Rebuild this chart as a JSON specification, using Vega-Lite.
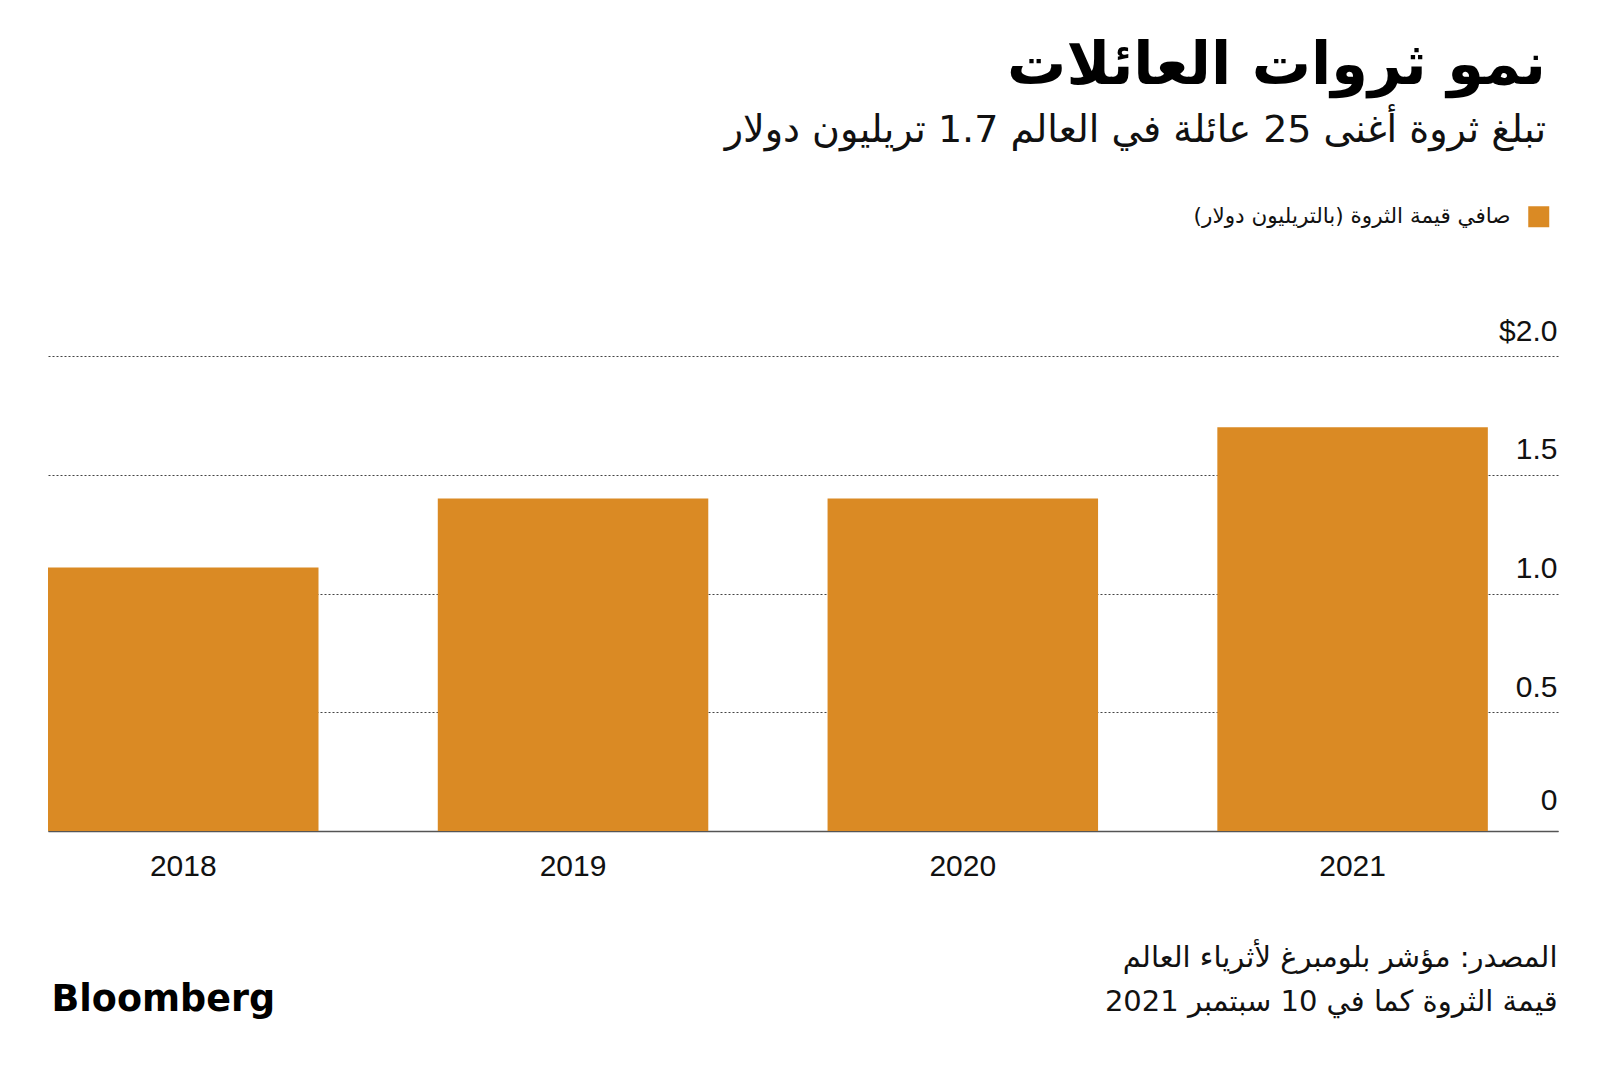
{
  "$schema": "https://vega.github.io/schema/vega-lite/v6.json",
  "width": 1510,
  "height": 475,
  "autosize": "none",
  "padding": {"left": 48, "top": 356, "right": 42, "bottom": 246},
  "background": "white",
  "title": {
    "text": "نمو ثروات العائلات",
    "subtitle": "تبلغ ثروة أغنى 25 عائلة في العالم 1.7 تريليون دولار",
    "anchor": "end",
    "frame": "group",
    "dx": -12,
    "dy": -52,
    "font": "DejaVu Sans",
    "fontSize": 59,
    "fontWeight": "bold",
    "color": "#000000",
    "subtitleFont": "DejaVu Sans",
    "subtitleFontSize": 38,
    "subtitleColor": "#111111",
    "subtitlePadding": 16
  },
  "data": {
    "values": [
      {"year": "2018", "value": 1.11, "series": "صافي قيمة الثروة  (بالتريليون دولار)‏"},
      {"year": "2019", "value": 1.4, "series": "صافي قيمة الثروة  (بالتريليون دولار)‏"},
      {"year": "2020", "value": 1.4, "series": "صافي قيمة الثروة  (بالتريليون دولار)‏"},
      {"year": "2021", "value": 1.7, "series": "صافي قيمة الثروة  (بالتريليون دولار)‏"}
    ]
  },
  "mark": {"type": "bar", "cornerRadius": 0},
  "encoding": {
    "x": {
      "field": "year",
      "type": "ordinal",
      "scale": {"paddingInner": 0.306, "paddingOuter": 0.09, "align": 0},
      "axis": {
        "domain": true,
        "domainColor": "#555555",
        "domainWidth": 1.5,
        "ticks": false,
        "labelAngle": 0,
        "labelFont": "Liberation Sans",
        "labelFontSize": 30,
        "labelColor": "#111111",
        "labelPadding": 20,
        "title": ["المصدر: مؤشر بلومبرغ لأثرياء العالم", "قيمة الثروة كما في 10 سبتمبر 2021"],
        "titleFont": "DejaVu Sans",
        "titleFontSize": 29,
        "titleFontWeight": "normal",
        "titleColor": "#111111",
        "titleAlign": "right",
        "titleAnchor": "end",
        "titleBaseline": "top",
        "titleLineHeight": 44,
        "titleX": 1509,
        "titleY": 112
      }
    },
    "y": {
      "field": "value",
      "type": "quantitative",
      "scale": {"domain": [0, 2], "nice": false},
      "axis": {
        "orient": "right",
        "values": [0, 0.5, 1, 1.5, 2],
        "labelExpr": "datum.value == 2 ? '$2.0' : (datum.value == 0 ? '0' : format(datum.value, '.1f'))",
        "grid": true,
        "gridColor": "#444444",
        "gridDash": [2, 2],
        "gridWidth": 1,
        "domain": false,
        "ticks": false,
        "labelAlign": "right",
        "labelBaseline": "alphabetic",
        "labelPadding": -1,
        "labelOffset": {"condition": {"test": "datum.value == 0", "value": -22}, "value": -16},
        "labelFont": "Liberation Sans",
        "labelFontSize": 30,
        "labelColor": "#111111",
        "title": "Bloomberg",
        "titleFont": "DejaVu Sans",
        "titleFontSize": 36.5,
        "titleFontWeight": "bold",
        "titleColor": "#000000",
        "titleAngle": 0,
        "titleAlign": "left",
        "titleBaseline": "alphabetic",
        "titleX": -1507,
        "titleY": 654
      }
    },
    "color": {
      "field": "series",
      "type": "nominal",
      "scale": {"range": ["#DA8A24"]},
      "legend": {
        "orient": "none",
        "legendX": 1480,
        "legendY": -150,
        "padding": 0,
        "title": null,
        "symbolType": "square",
        "symbolSize": 441,
        "symbolStrokeWidth": 0,
        "symbolOpacity": 1,
        "labelAlign": "right",
        "labelOffset": -39,
        "labelFont": "DejaVu Sans",
        "labelFontSize": 21.5,
        "labelColor": "#111111",
        "labelLimit": 600
      }
    }
  },
  "config": {
    "view": {"stroke": null},
    "axis": {"gridOpacity": 1}
  }
}
